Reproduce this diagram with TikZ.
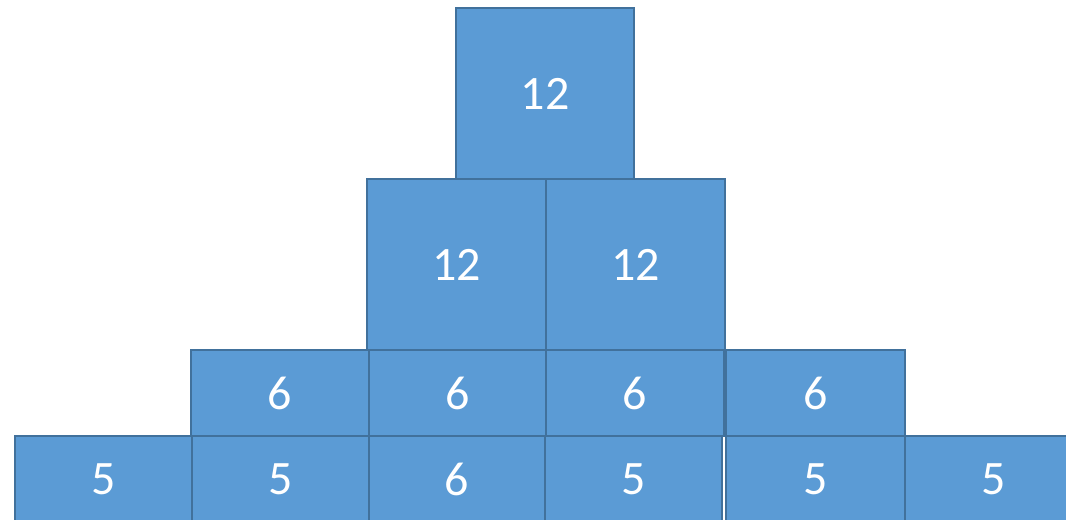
\documentclass[tikz,border=0pt]{standalone}
\usepackage{fontspec}
\setmainfont{Carlito}
\usepackage{xcolor}
\usepackage{tikz}
\usetikzlibrary{positioning}
\definecolor{blockfill}{HTML}{5B9BD5}
\definecolor{blockline}{HTML}{41719C}
\tikzset{
  block/.style 2 args={draw=blockline,fill=blockfill,line width=1.5pt,
    text=white,font=\fontsize{36}{40}\selectfont,inner sep=0pt,outer sep=0pt,
    minimum width=#1*0.75pt,minimum height=#2*0.75pt}
}

\begin{document}
\begin{tikzpicture}[x=0.75pt,y=-0.75pt]
\useasboundingbox (0,0) rectangle (1066,519);
\clip (0,0) rectangle (1066,519);
% top
\node[block={178}{171}] (top) at (545,93.5) {12};
% second row
\node[block={179}{171}] (mid1) at (456.5,264.5) {12};
\node[block={179}{171}] (mid2) at (635.5,264.5) {12};
% third row
\node[block={178}{86}] (low1) at (280,393) {6};
\node[block={177}{86}] (low2) at (457.5,393) {6};
\node[block={178}{86}] (low3) at (635,393) {6};
\node[block={179}{86}] (low4) at (815.5,393) {6};
% bottom row
\node[block={177}{86}] (base1) at (103.5,479) {5};
\node[block={177}{86}] (base2) at (280.5,479) {5};
\node[block={176}{86}] (base3) at (457,479) {6};
\node[block={177}{86}] (base4) at (633.5,479) {5};
\node[block={179}{86}] (base5) at (815.5,479) {5};
\node[block={178}{86}] (base6) at (994,479) {5};
\end{tikzpicture}
\end{document}
